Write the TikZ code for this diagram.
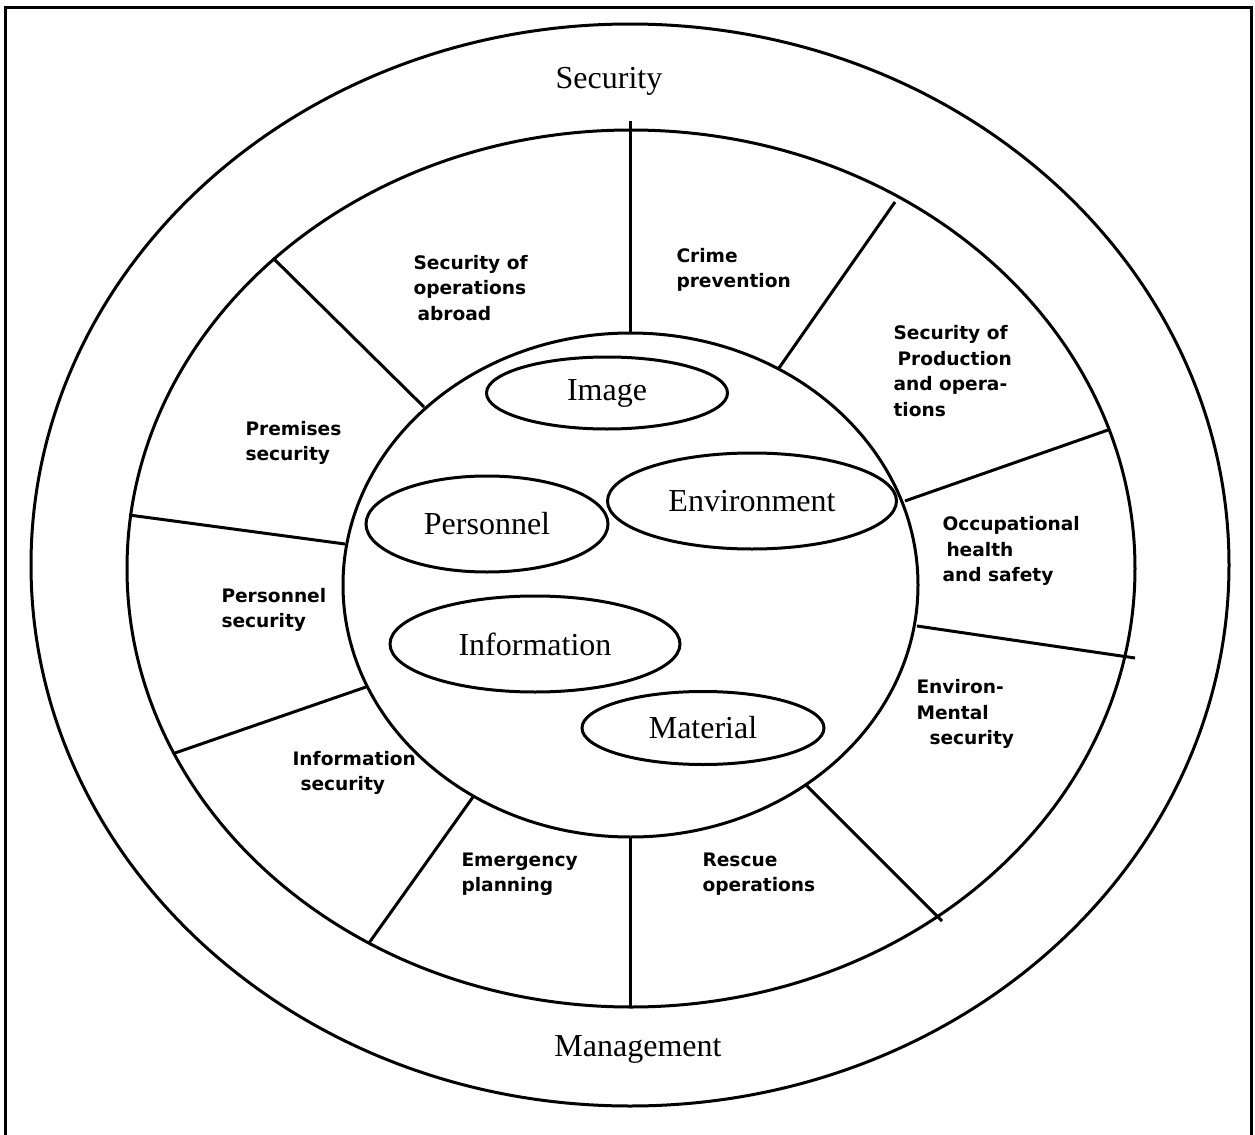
\documentclass[tikz,border=0pt]{standalone}
\usepackage{fontspec}
\setmainfont{Liberation Serif}
\newfontfamily\sectorfont{DejaVu Sans}
\usetikzlibrary{shapes.geometric}

\begin{document}
\begin{tikzpicture}[x=0.5pt,y=-0.5pt,line width=1.5pt,
		oval/.style={ellipse,draw,inner sep=0pt,font=\fontsize{16}{18}\selectfont},
		ringlabel/.style={anchor=base,inner sep=0pt,font=\fontsize{16}{18}\selectfont},
		sector/.style={anchor=west,align=left,inner sep=0pt,
			font=\sectorfont\bfseries\fontsize{9.3}{12.7}\selectfont}]
	\useasboundingbox (0,0) rectangle (1255,1135);
	\draw (5,1145) |- (1251,7) -- (1251,1145);
	% the three rings
	\draw (630,565) ellipse [x radius=599,y radius=541];
	\draw (631,568.5) ellipse [x radius=504,y radius=438.5];
	\draw (630.5,585) ellipse [x radius=287.5,y radius=252];
	% spokes between inner and middle ring
	\foreach \xa/\ya/\xb/\yb in {630/121/630/333, 895/202/779/368, 1108/430/905/501,
			917/626/1135/658, 806/785/942/921, 630/838/630/1007, 473/797/369/943,
			366/687/175/753, 345/544/129/515, 273/258/424/407}
	\draw (\xa,\ya) -- (\xb,\yb);
	\node[ringlabel] (security) at (609,89) {Security};
	\node[ringlabel] (management) at (638,1056) {Management};
	% assets
	\node[oval,minimum width=120.5pt,minimum height=36pt] (image) at (607,393) {Image};
	\node[oval,minimum width=121pt,minimum height=48pt] (personnel) at (487,524) {Personnel};
	\node[oval,minimum width=144.5pt,minimum height=48pt] (environment) at (752,501) {Environment};
	\node[oval,minimum width=145pt,minimum height=48pt] (information) at (535,644) {Information};
	\node[oval,minimum width=121pt,minimum height=36.5pt] (material) at (703,728) {Material};
	% sectors
	\node[sector] (abroad) at (412,288) {Security of\\operations\\\hspace{2pt}abroad};
	\node[sector] (crime) at (675,270) {Crime\\prevention};
	\node[sector] (production) at (892,371) {Security of\\\hspace{2pt}Production\\and opera-\\tions};
	\node[sector] (premises) at (244,443) {Premises\\security};
	\node[sector] (health) at (941,551) {Occupational\\\hspace{2pt}health\\and safety};
	\node[sector] (perssec) at (220,610) {Personnel\\security};
	\node[sector] (infosec) at (291,773) {Information\\\hspace{4pt}security};
	\node[sector] (envsec) at (915,714) {Environ-\\Mental\\\hspace{6.5pt}security};
	\node[sector] (emergency) at (460,874) {Emergency\\planning};
	\node[sector] (rescue) at (701,874) {Rescue\\operations};
\end{tikzpicture}
\end{document}
